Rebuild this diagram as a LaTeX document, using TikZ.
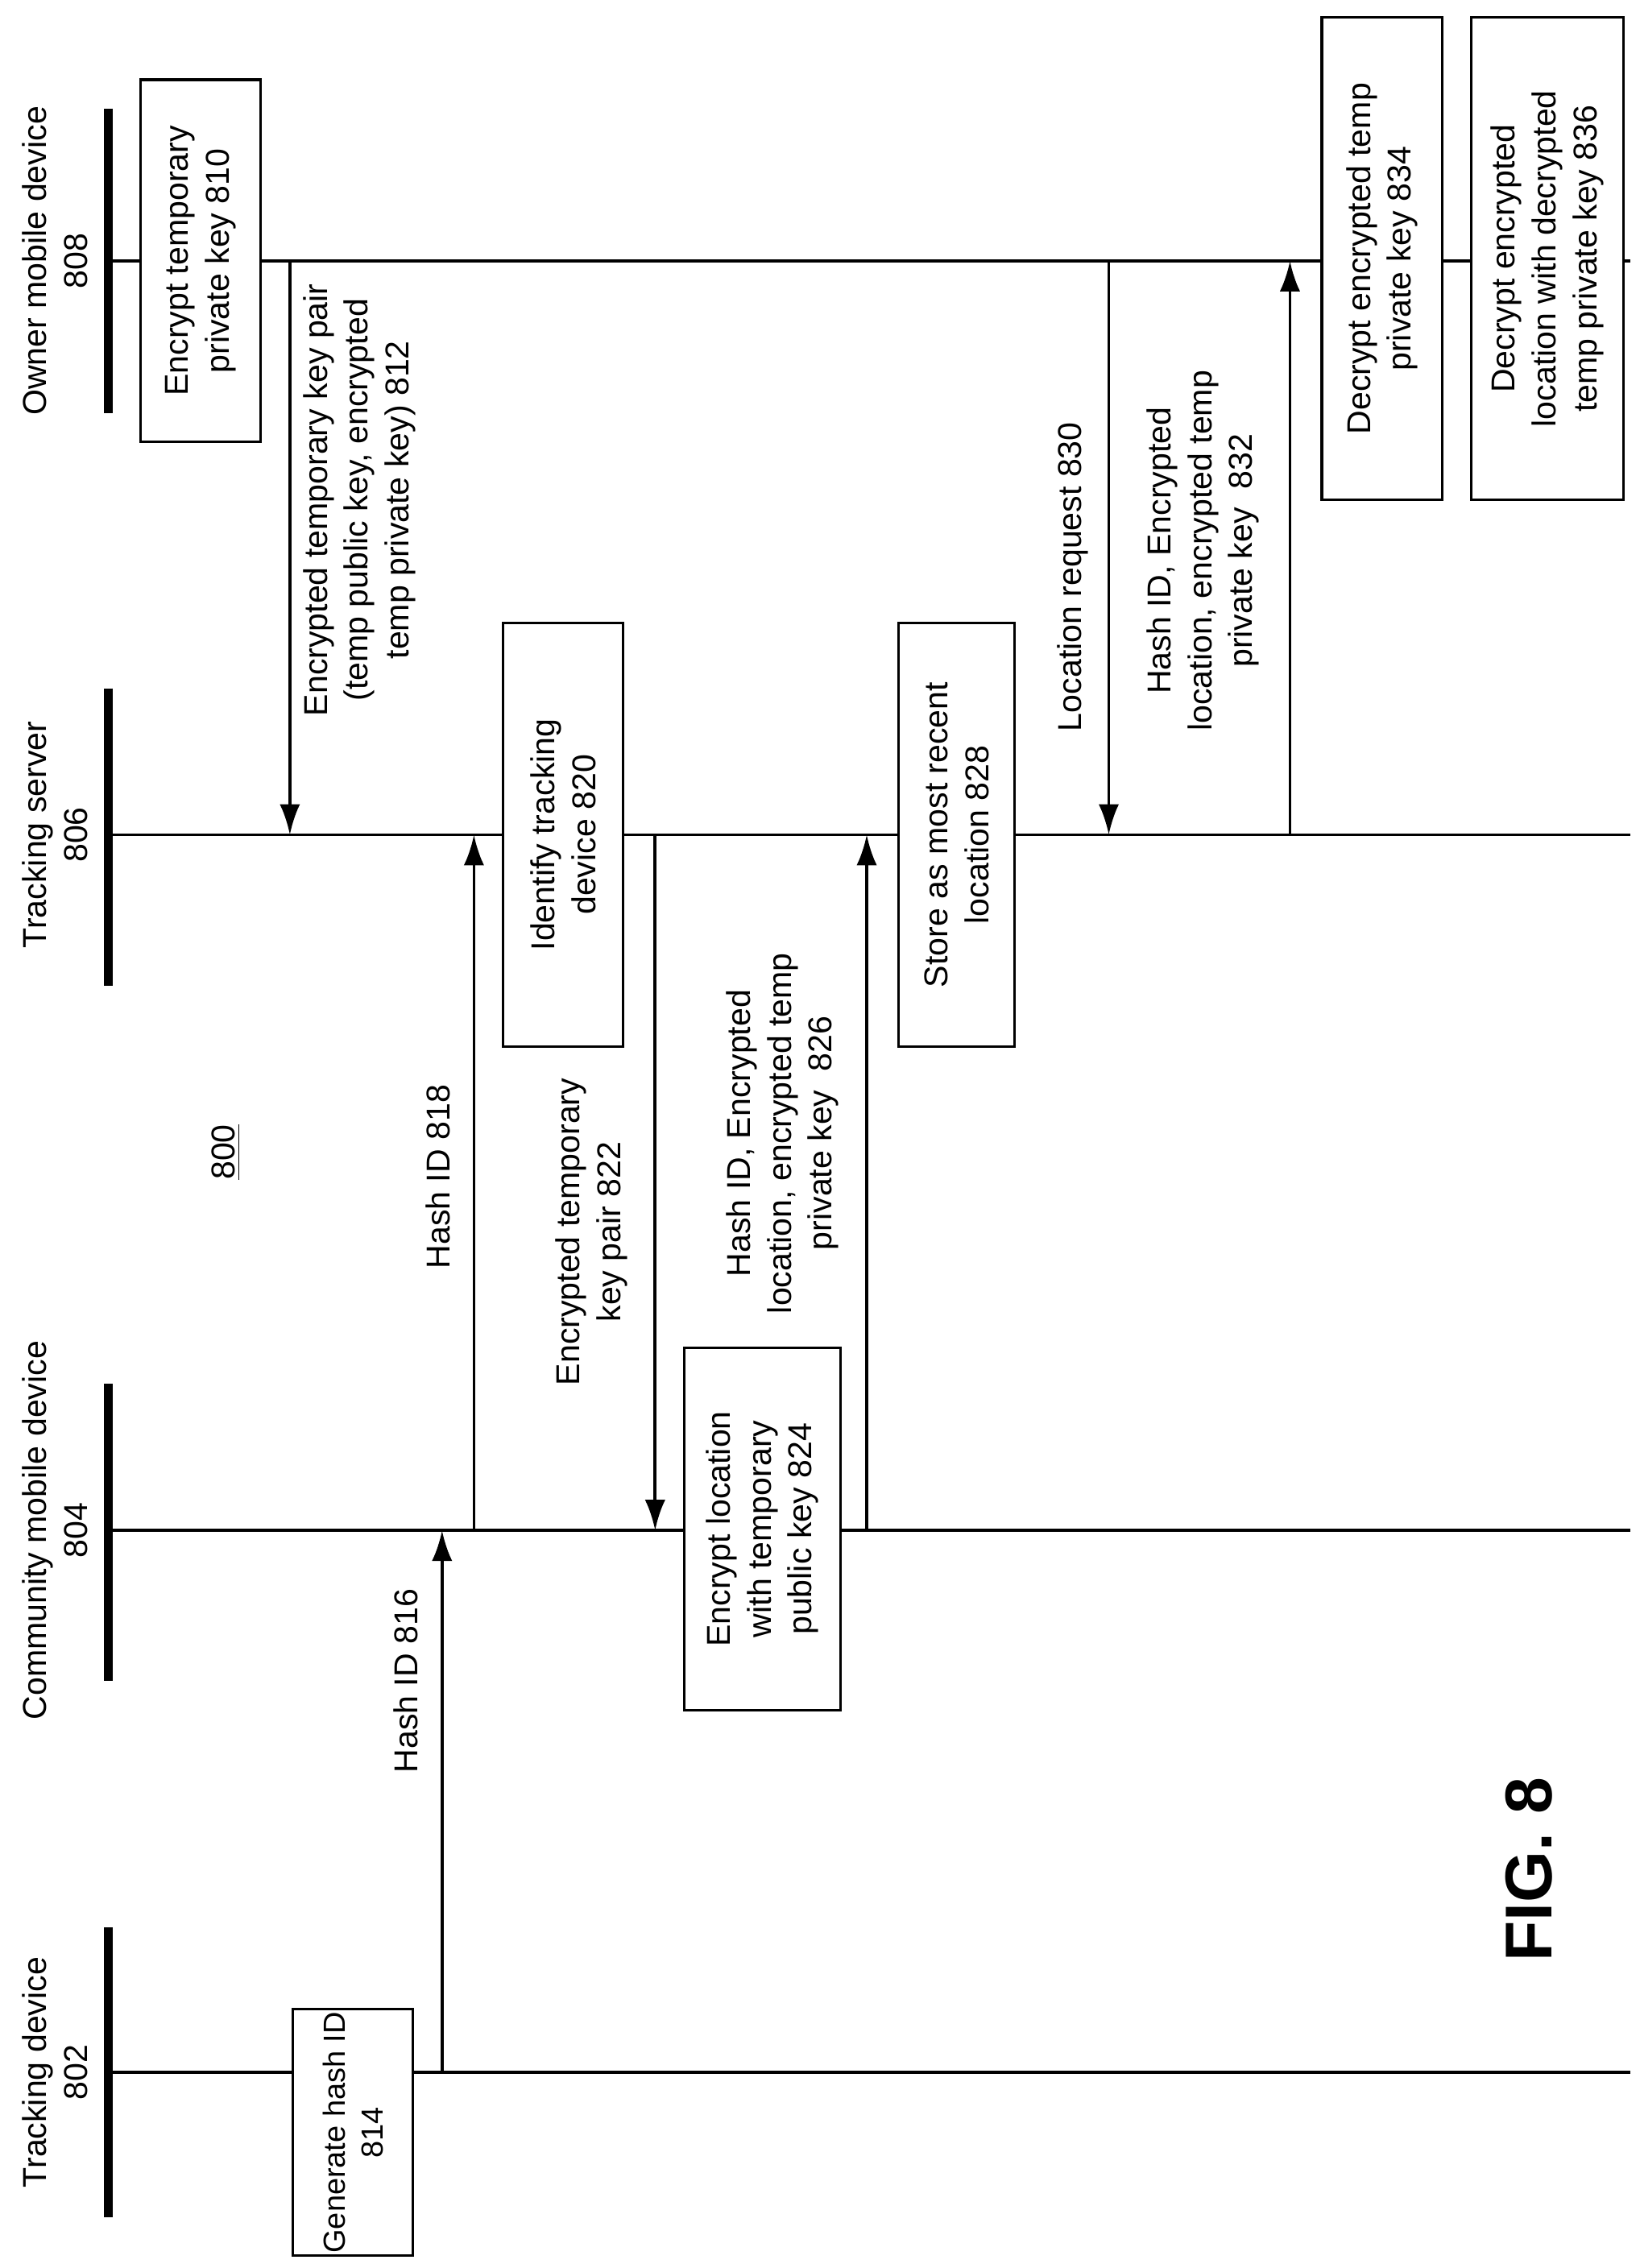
\documentclass[tikz,border=0pt]{standalone}
\usepackage{fontspec}
\setmainfont{Liberation Sans}
\usetikzlibrary{arrows.meta, positioning}

\begin{document}
\begin{tikzpicture}[x=0.02cm, y=-0.02cm, font=\fontsize{13}{16}\selectfont,
    box/.style={draw, fill=white, line width=1pt, rotate=90, align=center, inner sep=1pt},
    lbl/.style={rotate=90, align=center},
    msg/.style={-{Latex[length=12pt, width=8pt]}, line width=1.2pt},
    life/.style={line width=1.2pt},
    bar/.style={line width=3.5pt}]
    \useasboundingbox (0,0) rectangle (1131,1565);

    % Lifelines
    \draw[life] (75,180) -- (1125,180);
    \draw[life] (75,576) -- (1125,576);
    \draw[life] (75,1056) -- (1125,1056);
    \draw[life] (75,1430) -- (1125,1430);
    \draw[bar] (75,75) -- (75,285);
    \draw[bar] (75,475) -- (75,680);
    \draw[bar] (75,955) -- (75,1160);
    \draw[bar] (75,1330) -- (75,1530);
    \node[lbl] (owner) at (38,180) {Owner mobile device\\808};
    \node[lbl] (server) at (38,576) {Tracking server\\806};
    \node[lbl] (community) at (38,1056) {Community mobile device\\804};
    \node[lbl] (tracker) at (38,1430) {Tracking device\\802};

    % Boxes
    \node[box, minimum width=5cm, minimum height=1.66cm] (b810) at (138.5,180) {Encrypt temporary\\private key 810};
    \node[box, minimum width=5.84cm, minimum height=1.66cm] (b820) at (388.5,576) {Identify tracking\\device 820};
    \node[box, minimum width=5cm, minimum height=2.16cm] (b824) at (526,1055) {Encrypt location\\with temporary\\public key 824};
    \node[box, minimum width=5.84cm, minimum height=1.6cm] (b828) at (660,576) {Store as most recent\\location 828};
    \node[box, minimum width=3.34cm, minimum height=1.66cm, font=\fontsize{12}{15}\selectfont] (b814) at (243.5,1471.5) {Generate hash ID\\814};
    \node[box, minimum width=6.66cm, minimum height=1.66cm] (b834) at (953.5,178.5) {Decrypt encrypted temp\\private key 834};
    \node[box, minimum width=6.66cm, minimum height=2.1cm] (b836) at (1067.5,178.5) {Decrypt encrypted\\location with decrypted\\temp private key 836};

    % Messages
    \coordinate (s812) at (200,180); \coordinate (e812) at (200,576);
    \coordinate (s816) at (305,1430); \coordinate (e816) at (305,1056);
    \coordinate (s818) at (327,1056); \coordinate (e818) at (327,576);
    \coordinate (s822) at (452,576); \coordinate (e822) at (452,1056);
    \coordinate (s826) at (598,1056); \coordinate (e826) at (598,576);
    \coordinate (s830) at (765,180); \coordinate (e830) at (765,576);
    \coordinate (s832) at (890,576); \coordinate (e832) at (890,180);
    \draw[msg] (s812) -- (e812);
    \draw[msg] (s816) -- (e816);
    \draw[msg] (s818) -- (e818);
    \draw[msg] (s822) -- (e822);
    \draw[msg] (s826) -- (e826);
    \draw[msg] (s830) -- (e830);
    \draw[msg] (s832) -- (e832);
    \node[lbl] (l812) at (248,345) {Encrypted temporary key pair\\(temp public key, encrypted\\temp private key) 812};
    \node[lbl] (l816) at (280,1160) {Hash ID 816};
    \node[lbl] (l818) at (302,812) {Hash ID 818};
    \node[lbl] (l822) at (408,850) {Encrypted temporary\\key pair 822};
    \node[lbl] (l826) at (540,782) {Hash ID, Encrypted\\location, encrypted temp\\private key~~826};
    \node[lbl] (l830) at (740,398) {Location request 830};
    \node[lbl] (l832) at (830,380) {Hash ID, Encrypted\\location, encrypted temp\\private key~~832};

    \node[lbl] (fignum) at (156,795) {\underline{800}};
    \node[lbl, font=\fontsize{26}{30}\selectfont\bfseries] (fig) at (1055,1290) {FIG. 8};
\end{tikzpicture}
\end{document}
